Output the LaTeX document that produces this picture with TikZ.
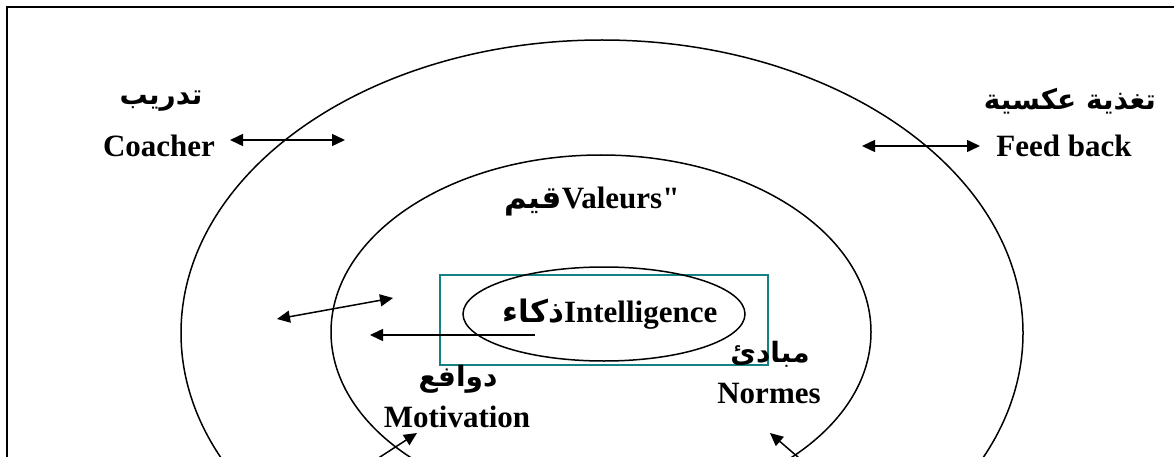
\documentclass[tikz,border=0pt]{standalone}
\usepackage{fontspec}
\setmainfont{Liberation Serif}[Ligatures=TeXOff]
\newfontfamily\arabicfont[Script=Arabic,BoldFont={DejaVu Sans Bold}]{DejaVu Sans}
\TeXXeTstate=1
\usetikzlibrary{arrows.meta}
\definecolor{boxteal}{RGB}{20,130,130}
\tikzset{
  lat/.style={anchor=base, inner sep=0pt, font=\fontsize{31}{36}\selectfont\bfseries},
  arb/.style={inner sep=0pt, font=\fontsize{28}{33}\selectfont\arabicfont\bfseries},
  ring/.style={line width=1.5pt},
  tip/.style={line width=1.5pt, -{Triangle[length=13pt,width=12pt]}},
  dbl/.style={line width=1.5pt, {Triangle[length=13pt,width=12pt]}-{Triangle[length=13pt,width=12pt]}},
}
\begin{document}
\begin{tikzpicture}[x=1pt,y=-1pt]
  \useasboundingbox (0,0) rectangle (1174,457);
  \clip (0,0) rectangle (1174,457);
  \fill[white] (0,0) rectangle (1174,457);

  % outer frame (runs past the page on the right and bottom)
  \draw[line width=2.2pt] (1190,7) -- (7,7) -- (7,470);

  % nested rings
  \coordinate (outerC) at (602,333);
  \coordinate (midC) at (601,332);
  \coordinate (innerC) at (604,314);
  \draw[ring] (outerC) ellipse [x radius=421, y radius=293];
  \draw[ring] (midC) ellipse [x radius=270, y radius=177];
  \draw[boxteal, line width=1.5pt] (440,275) rectangle (768,365);
  \draw[ring] (innerC) ellipse [x radius=141, y radius=47];

  % labels
  \node[arb] (tadrib) at (161,101) {\beginR تدريب\endR};
  \node[lat] (coacher) at (159,157) {Coacher};
  \node[arb] (taghdhiya) at (1070,101) {\beginR تغذية عكسية\endR};
  \node[lat] (feedback) at (1064,157) {Feed back};
  \node[lat] (valeurs) at (592,208) {{\arabicfont\beginR قيم\endR}Valeurs"};
  \node[lat] (intel) at (610,322) {{\arabicfont\beginR ذكاء\endR}Intelligence};
  \node[arb] (dawafi) at (458,379) {\beginR دوافع\endR};
  \node[lat] (motivation) at (457,427) {Motivation};
  \node[arb] (mabadi) at (770,354) {\beginR مبادئ\endR};
  \node[lat] (normes) at (769,403) {Normes};

  % arrow end points
  \coordinate (coachL) at (230,140);
  \coordinate (coachR) at (345,140);
  \coordinate (feedL) at (862,146);
  \coordinate (feedR) at (980,146);
  \coordinate (midL) at (277,319);
  \coordinate (midR) at (393,298);
  \coordinate (intelS) at (535,335);
  \coordinate (intelT) at (370,335);
  \coordinate (motS) at (360,470);
  \coordinate (motT) at (417,433);
  \coordinate (normS) at (813,470);
  \coordinate (normT) at (770,433);

  % connectors
  \draw[dbl] (coachL) -- (coachR);
  \draw[dbl] (feedL) -- (feedR);
  \draw[dbl] (midL) -- (midR);
  \draw[tip] (intelS) -- (intelT);
  \draw[tip] (motS) -- (motT);
  \draw[tip] (normS) -- (normT);
\end{tikzpicture}
\end{document}
